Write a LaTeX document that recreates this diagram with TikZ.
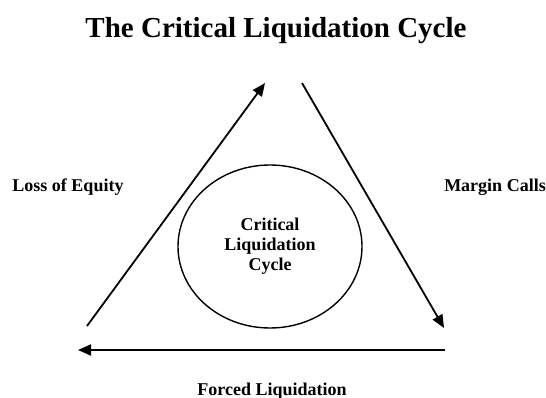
\documentclass[tikz,border=0pt]{standalone}
\usepackage{fontspec}
\setmainfont{Liberation Serif}
\usetikzlibrary{arrows.meta,shapes.geometric}
\begin{document}
\begin{tikzpicture}[x=1pt,y=-1pt,
  lbl/.style={font=\bfseries\fontsize{18}{20}\selectfont, inner sep=0pt},
  cyc/.style={line width=1.8pt, -{Triangle[length=13pt,width=11pt]}}]
\useasboundingbox (0,0) rectangle (546,398);
\node[font=\bfseries\fontsize{29}{32}\selectfont, inner sep=0pt, anchor=base] (title) at (276,38) {The Critical Liquidation Cycle};
\coordinate (lb) at (87,326);
\coordinate (top1) at (265,83);
\coordinate (top2) at (302,83);
\coordinate (rb) at (444,328);
\coordinate (hr) at (445,350);
\coordinate (hl) at (78,350);
\draw[cyc] (lb) -- (top1);
\draw[cyc] (top2) -- (rb);
\draw[cyc] (hr) -- (hl);
\node[draw, line width=1.4pt, ellipse, minimum width=184pt, minimum height=163pt, inner sep=0pt] (ell) at (270,246.5) {};
\node[lbl, align=center] (inner) at (ell.center) {Critical\\Liquidation\\Cycle};
\node[lbl, anchor=base] (loss) at (68,192) {Loss of Equity};
\node[lbl, anchor=base] (margin) at (495,192) {Margin Calls};
\node[lbl, anchor=base] (forced) at (272,395) {Forced Liquidation};
\end{tikzpicture}
\end{document}
